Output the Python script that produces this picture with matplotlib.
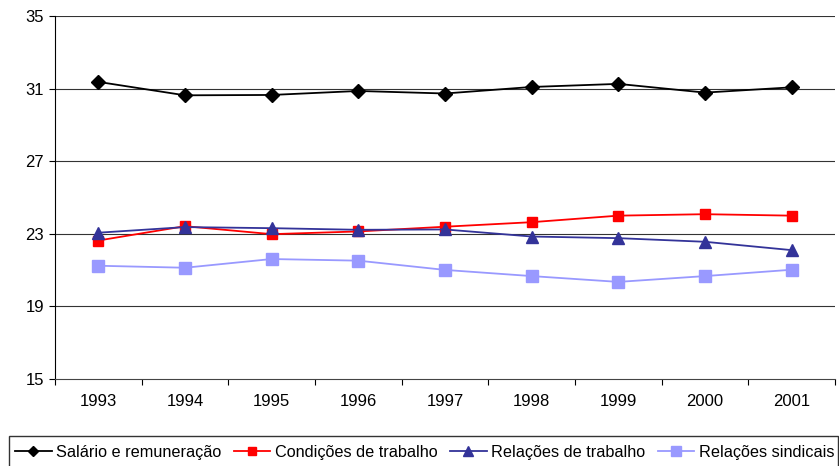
import matplotlib
matplotlib.use("Agg")
import matplotlib.pyplot as plt
from matplotlib.patches import Rectangle
import numpy as np

plt.rcParams['font.family'] = ['Liberation Sans', 'DejaVu Sans']

years = ["1993", "1994", "1995", "1996", "1997", "1998", "1999", "2000", "2001"]
salario = [31.37, 30.63, 30.65, 30.87, 30.73, 31.09, 31.26, 30.78, 31.07]
condicoes = [22.63, 23.42, 22.98, 23.13, 23.39, 23.64, 24.00, 24.08, 24.00]
relacoes_trab = [23.06, 23.37, 23.31, 23.22, 23.24, 22.85, 22.76, 22.56, 22.10]
relacoes_sind = [21.24, 21.13, 21.61, 21.52, 21.01, 20.67, 20.35, 20.67, 21.02]
labels = ["Salário e remuneração", "Condições de trabalho",
          "Relações de trabalho", "Relações sindicais"]
y_ticks = [15, 19, 23, 27, 31, 35]

W, H = 839, 466
fig = plt.figure(figsize=(W / 100, H / 100), dpi=100)
ax = fig.add_axes([55 / W, 1 - 379 / H, 780 / W, 363 / H])

x = np.arange(len(years))
# (values, colour, marker, size in plot, size in legend)
series = [
    (salario, 'black', 'D', 7, 5.5),
    (condicoes, '#FF0000', 's', 7.5, 6),
    (relacoes_trab, '#333399', '^', 8, 6.5),
    (relacoes_sind, '#9999FF', 's', 8.5, 6.5),
]
for (vals, col, mk, ms, _), lab in zip(series, labels):
    ax.plot(x, vals, color=col, marker=mk, markersize=ms, linewidth=1.3,
            markeredgecolor=col, markerfacecolor=col, label=lab, zorder=3)

ax.set_xlim(-0.5, len(years) - 0.5)
ax.set_ylim(15, 35)
ax.set_yticks(y_ticks)
ax.set_yticklabels([str(v) for v in y_ticks], fontsize=12)
ax.set_xticks(x)
ax.set_xticklabels(years, fontsize=12)
ax.set_xticks(np.arange(-0.5, len(years)), minor=True)
ax.tick_params(axis='x', which='major', length=0, pad=11)
ax.tick_params(axis='x', which='minor', length=4, width=0.8, direction='out')
ax.tick_params(axis='y', length=4, width=0.8, direction='out', pad=4)

for v in y_ticks[1:]:
    ax.axhline(v, color='#333333', linewidth=0.8, zorder=1)

for side in ['top', 'right']:
    ax.spines[side].set_visible(False)
ax.spines['left'].set_color('black')
ax.spines['bottom'].set_color('#444444')
ax.spines['left'].set_linewidth(0.8)
ax.spines['bottom'].set_linewidth(0.8)

# legend box, running off the bottom edge of the figure
fig.patches.append(Rectangle((9 / W, -10 / H), 829 / W, (466 - 436 + 10) / H,
                             transform=fig.transFigure, fill=False,
                             edgecolor='#333333', linewidth=1.0))

leg_handles = [
    plt.Line2D([], [], color=col, marker=mk, markersize=lms,
               markeredgecolor=col, markerfacecolor=col, linewidth=1.3,
               label=lab)
    for (vals, col, mk, ms, lms), lab in zip(series, labels)
]

fig.legend(handles=leg_handles, loc='center left',
           bbox_to_anchor=(15 / W, 1 - 452 / H), ncol=4, fontsize=11.7,
           frameon=False, handlelength=2.25, handletextpad=0.27,
           columnspacing=0.78, borderpad=0, borderaxespad=0)

fig.savefig("out.png", dpi=100)
